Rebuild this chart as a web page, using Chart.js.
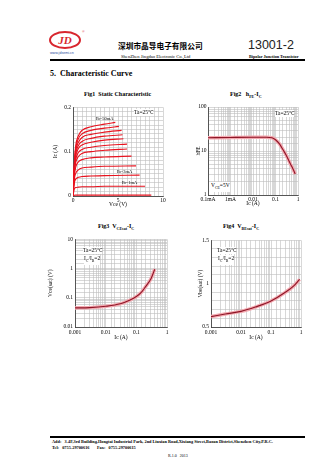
<!DOCTYPE html>
<html>
<head>
<meta charset="utf-8">
<script src="https://cdn.jsdelivr.net/npm/chart.js@4.4.0/dist/chart.umd.min.js"></script>
<style>
  body { margin: 0; background: #fff; }
  #page { position: relative; width: 336px; height: 475px; overflow: hidden; font-family: "Liberation Serif", serif; color: #000; }
  .abs { position: absolute; white-space: nowrap; }
  canvas { position: absolute; }
  .note { position: absolute; white-space: nowrap; font-size: 5.5px; background: #fff; line-height: 7px; }
  .figt { position: absolute; white-space: nowrap; font-size: 6px; font-weight: bold; }
</style>
</head>
<body>
<div id="page">
  <svg class="abs" style="left:48px;top:29px" width="42" height="28">
    <ellipse cx="17" cy="11" rx="15" ry="8" fill="none" stroke="#d8262e" stroke-width="2"/>
    <text x="17" y="15" text-anchor="middle" font-family="Liberation Serif" font-style="italic" font-weight="bold" font-size="11" fill="#d8262e">JD</text>
    <text x="34" y="4" font-size="3.5" fill="#d8262e">®</text>
    <text x="2" y="25" font-family="Liberation Sans" font-size="3.6" fill="#2a4da0">www.jdsemi.cn</text>
  </svg>
  <div class="abs" style="left:118px;top:41px;font-family:'Noto Sans CJK SC';font-weight:bold;font-size:7.7px;line-height:9px">深圳市晶导电子有限公司</div>
  <div class="abs" style="left:121px;top:53.5px;font-size:4.6px;line-height:5px">ShenZhen Jingdao Electronic Co.,Ltd</div>
  <div class="abs" style="left:248px;top:38px;font-family:'Liberation Sans';font-size:12.5px;line-height:14px;color:#222">13001-2</div>
  <div class="abs" style="left:249px;top:53.5px;font-size:4.2px;font-weight:bold;line-height:5px">Bipolar Junction Transistor</div>
  <div class="abs" style="left:50px;top:59px;width:255px;height:2px;background:#000"></div>
  <div class="abs" style="left:50px;top:69px;font-size:8px;font-weight:bold;line-height:10px">5.&nbsp; Characteristic Curve</div>

  <div class="figt" style="left:84px;top:91px">Fig1&nbsp; Static Characteristic</div>
  <div class="figt" style="left:230px;top:91px">Fig2&nbsp;&nbsp; h<sub style="font-size:4px">FE</sub>-I<sub style="font-size:4px">C</sub></div>
  <div class="figt" style="left:98px;top:223px">Fig3&nbsp; V<sub style="font-size:4px">CEsat</sub>-I<sub style="font-size:4px">C</sub></div>
  <div class="figt" style="left:223px;top:223px">Fig4&nbsp; V<sub style="font-size:4px">BEsat</sub>-I<sub style="font-size:4px">C</sub></div>

  <canvas id="fig1" style="left:52px;top:102px" width="116" height="106"></canvas>
  <canvas id="fig2" style="left:195px;top:102px" width="108" height="105"></canvas>
  <canvas id="fig3" style="left:47px;top:234px" width="125" height="107"></canvas>
  <canvas id="fig4" style="left:197px;top:235px" width="109" height="106"></canvas>

  <div class="note" style="left:134px;top:109px">Ta=25℃</div>
  <div class="note" style="left:96px;top:115px;font-size:4.5px;background:none">Ib=50mA</div>
  <div class="note" style="left:117px;top:168px;font-size:4.5px;background:none">Ib=3mA</div>
  <div class="note" style="left:122px;top:179px;font-size:4.5px;background:none">Ib=1mA</div>

  <div class="note" style="left:275px;top:110px">Ta=25℃</div>
  <div class="note" style="left:211px;top:182px">V<sub style="font-size:3.8px">CE</sub>=5V</div>

  <div class="note" style="left:83px;top:247px">Ta=25℃</div>
  <div class="note" style="left:84px;top:255px">I<sub style="font-size:3.8px">C</sub>/I<sub style="font-size:3.8px">B</sub>=2</div>

  <div class="note" style="left:217px;top:247px">Ta=25℃</div>
  <div class="note" style="left:218px;top:255px">I<sub style="font-size:3.8px">C</sub>/I<sub style="font-size:3.8px">B</sub>=2</div>

  <div class="abs" style="left:50px;top:436px;width:255px;height:2px;background:#000"></div>
  <div class="abs" style="left:52px;top:439px;font-size:4.3px;font-weight:bold;line-height:5px">Add:&nbsp;&nbsp; 3-4F,3rd Building,Hongtai Industrial Park, 2nd Liuxian Road,Xixiang Street,Baoan District,Shenzhen City,P.R.C.</div>
  <div class="abs" style="left:52px;top:444.5px;font-size:4.3px;font-weight:bold;line-height:5px">Tel:&nbsp;&nbsp; 0755-29700616&nbsp;&nbsp;&nbsp;&nbsp;&nbsp;&nbsp; Fax:&nbsp;&nbsp; 0755-29700615</div>
  <div class="abs" style="left:168px;top:452.5px;font-size:4px;line-height:5px">R.1.0&nbsp;&nbsp; 2013</div>
</div>

<script>
// Fig1 static characteristic: Vce points shared by all curves, last point per curve in fig1EndVce
const fig1Vce = [0, 0.15, 0.3, 0.6, 1, 2, 3.5];
const fig1EndVce = [4.7, 5.1, 5.4, 5.5, 5.6, 6.0, 6.0, 6.5, 7.0, 7.4, 8.0, 8.7];
const fig1Ic = [
  [0, 0.075, 0.113, 0.136, 0.148, 0.156, 0.162, 0.166],
  [0, 0.071, 0.107, 0.129, 0.140, 0.148, 0.153, 0.157],
  [0, 0.067, 0.101, 0.121, 0.132, 0.139, 0.144, 0.148],
  [0, 0.064, 0.095, 0.114, 0.123, 0.130, 0.135, 0.138],
  [0, 0.060, 0.089, 0.107, 0.115, 0.121, 0.126, 0.129],
  [0, 0.056, 0.082, 0.098, 0.105, 0.110, 0.114, 0.117],
  [0, 0.052, 0.075, 0.089, 0.096, 0.100, 0.103, 0.106],
  [0, 0.046, 0.065, 0.077, 0.082, 0.086, 0.088, 0.090],
  [0, 0.038, 0.051, 0.059, 0.063, 0.065, 0.067, 0.068],
  [0, 0.030, 0.038, 0.042, 0.044, 0.045, 0.046, 0.047],
  [0, 0.016, 0.019, 0.020, 0.021, 0.021, 0.022, 0.022],
  [0, 0.0015, 0.002, 0.002, 0.002, 0.002, 0.002, 0.002]
];
const fig1XTicks = [0, 5, 10];
const fig1YTicks = [0, 0.1, 0.2];

// Fig2 hFE vs Ic
const fig2Ic = [0.0001, 0.001, 0.01, 0.04, 0.07, 0.1, 0.15, 0.22, 0.3, 0.45, 0.6, 0.75];
const fig2Hfe = [20, 20.3, 20.5, 20.5, 20, 18, 14.5, 10.5, 8, 5.2, 3.9, 3];
const fig2XTicks = [0.0001, 0.001, 0.01, 0.1, 1];
const fig2XLabels = ['0.1mA', '1mA', '0.01', '0.1', '1'];
const fig2YTicks = [1, 10, 100];

// Fig3 Vce(sat) vs Ic
const fig3Ic = [0.001, 0.003, 0.01, 0.03, 0.06, 0.1, 0.15, 0.2, 0.3, 0.4];
const fig3Vce = [0.045, 0.046, 0.051, 0.062, 0.082, 0.11, 0.16, 0.24, 0.45, 0.95];
const fig3XTicks = [0.001, 0.01, 0.1, 1];
const fig3YTicks = [0.01, 0.1, 1, 10];

// Fig4 Vbe(sat) vs Ic
const fig4Ic = [0.001, 0.003, 0.01, 0.03, 0.1, 0.3, 0.6, 0.9];
const fig4Vbe = [0.62, 0.65, 0.68, 0.73, 0.80, 0.90, 0.98, 1.05];
const fig4XTicks = [0.001, 0.01, 0.1, 1];
const fig4YTicks = [0.5, 1, 1.5];

const tickFont = { family: 'Liberation Serif', size: 5.5 };
const gridColor = '#bdbdbd';

function labelFor(v, ticks, labels, isLog) {
  for (let i = 0; i < ticks.length; i++) {
    const t = ticks[i];
    const same = isLog ? Math.abs(v / t - 1) < 1e-6 : Math.abs(v - t) < 1e-9;
    if (same) return labels ? labels[i] : String(t);
  }
  return '';
}

function axis(opts) {
  const a = {
    type: opts.type,
    min: opts.min,
    max: opts.max,
    grid: { color: gridColor, lineWidth: 0.6, drawTicks: false },
    border: { display: true, color: '#333', width: 0.8 },
    ticks: {
      font: tickFont, color: '#000', padding: opts.pad, autoSkip: false, maxRotation: 0,
      callback: v => labelFor(v, opts.ticks, opts.labels, opts.type === 'logarithmic')
    },
    title: { display: true, text: opts.title, font: tickFont, color: '#000', padding: 0 },
    afterFit: s => { if (opts.size.w) s.width = opts.size.w; else s.height = opts.size.h; }
  };
  if (opts.step) a.ticks.stepSize = opts.step;
  return a;
}

// with halo: dark line on top (order 0) of a wide pink band (order 1)
function curve(data, halo) {
  const sets = [];
  if (halo) {
    sets.push({ data: data, order: 0, showLine: true, borderColor: '#8e1526', borderWidth: 1.1, pointRadius: 0, cubicInterpolationMode: 'monotone' });
    sets.push({ data: data, order: 1, showLine: true, borderColor: '#f3a9b0', borderWidth: 3.5, pointRadius: 0, cubicInterpolationMode: 'monotone' });
  } else {
    sets.push({ data: data, showLine: true, borderColor: '#e8121e', borderWidth: 1.1, pointRadius: 0, cubicInterpolationMode: 'monotone' });
  }
  return sets;
}

function pairs(xs, ys) {
  return xs.map((x, i) => ({ x: x, y: ys[i] }));
}

function makeChart(id, datasets, xAxis, yAxis, pad) {
  return new Chart(document.getElementById(id), {
    type: 'scatter',
    data: { datasets: datasets },
    options: {
      responsive: false,
      animation: false,
      layout: { padding: pad },
      plugins: { legend: { display: false }, tooltip: { enabled: false } },
      scales: { x: xAxis, y: yAxis }
    }
  });
}

// Fig1
let fig1Sets = [];
fig1Ic.forEach((ic, k) => {
  const xs = fig1Vce.concat([fig1EndVce[k]]);
  fig1Sets = fig1Sets.concat(curve(pairs(xs, ic), false));
});
makeChart('fig1', fig1Sets,
  axis({ type: 'linear', min: 0, max: 10, step: 0.5, ticks: fig1XTicks, title: 'Vce (V)', pad: 1.5, size: { h: 12 } }),
  axis({ type: 'linear', min: 0, max: 0.2, step: 0.01, ticks: fig1YTicks, title: 'Ic (A)', pad: 2, size: { w: 21 } }),
  { top: 5, right: 5 });

// Fig2
makeChart('fig2', curve(pairs(fig2Ic, fig2Hfe), true),
  axis({ type: 'logarithmic', min: 0.0001, max: 1, ticks: fig2XTicks, labels: fig2XLabels, title: 'Ic (A)', pad: 1.5, size: { h: 12 } }),
  axis({ type: 'logarithmic', min: 1, max: 100, ticks: fig2YTicks, title: 'hFE', pad: 1.5, size: { w: 13 } }),
  { top: 5, right: 5 });

// Fig3
makeChart('fig3', curve(pairs(fig3Ic, fig3Vce), true),
  axis({ type: 'logarithmic', min: 0.001, max: 1, ticks: fig3XTicks, title: 'Ic (A)', pad: 2, size: { h: 14 } }),
  axis({ type: 'logarithmic', min: 0.01, max: 10, ticks: fig3YTicks, title: 'Vce(sat) (V)', pad: 2, size: { w: 28 } }),
  { top: 5, right: 5 });

// Fig4
makeChart('fig4', curve(pairs(fig4Ic, fig4Vbe), true),
  axis({ type: 'logarithmic', min: 0.001, max: 1, ticks: fig4XTicks, title: 'Ic (A)', pad: 2, size: { h: 14 } }),
  axis({ type: 'linear', min: 0.5, max: 1.5, step: 0.1, ticks: fig4YTicks, title: 'Vbe(sat) (V)', pad: 2, size: { w: 14 } }),
  { top: 5, right: 5 });
</script>
</body>
</html>
